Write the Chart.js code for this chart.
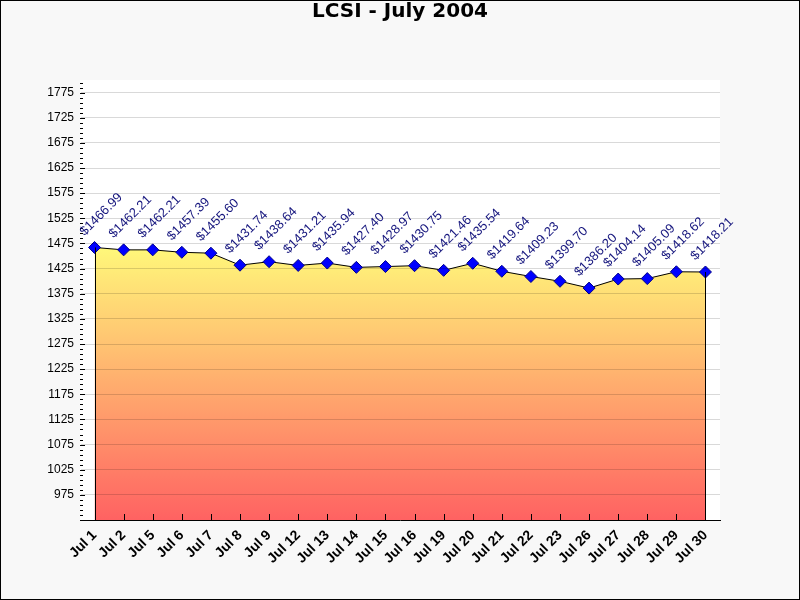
<!DOCTYPE html>
<html>
<head>
<meta charset="utf-8">
<title>LCSI - July 2004</title>
<script src="https://cdn.jsdelivr.net/npm/chart.js@4.4.1/dist/chart.umd.min.js"></script>
<style>
  html, body { margin: 0; padding: 0; background: #f8f8f8; }
  #wrap { width: 800px; height: 600px; }
</style>
</head>
<body>
<div id="wrap"><canvas id="lcsiChart" width="800" height="600"></canvas></div>
<script>
// trading days and closing values, July 2004
const days = ['Jul 1', 'Jul 2', 'Jul 5', 'Jul 6', 'Jul 7', 'Jul 8', 'Jul 9', 'Jul 12', 'Jul 13', 'Jul 14', 'Jul 15',
    'Jul 16', 'Jul 19', 'Jul 20', 'Jul 21', 'Jul 22', 'Jul 23', 'Jul 26', 'Jul 27', 'Jul 28', 'Jul 29', 'Jul 30'];
const closes = [1466.99, 1462.21, 1462.21, 1457.39, 1455.60, 1431.74, 1438.64, 1431.21, 1435.94, 1427.40, 1428.97,
    1430.75, 1421.46, 1435.54, 1419.64, 1409.23, 1399.70, 1386.20, 1404.14, 1405.09, 1418.62, 1418.21];
const yTicks = [975, 1025, 1075, 1125, 1175, 1225, 1275, 1325, 1375, 1425, 1475, 1525, 1575, 1625, 1675, 1725, 1775];
const yMin = 925;
const yMax = 1800;

// grey page, black frame, white plot area
const backdrop = {
    id: 'backdrop',
    beforeDraw(chart) {
        const ctx = chart.ctx;
        const area = chart.chartArea;
        ctx.save();
        ctx.fillStyle = '#f8f8f8';
        ctx.fillRect(0, 0, chart.width, chart.height);
        ctx.strokeStyle = '#000';
        ctx.lineWidth = 1;
        ctx.strokeRect(0.5, 0.5, chart.width - 1, chart.height - 1);
        ctx.fillStyle = '#fff';
        ctx.fillRect(area.left, area.top, area.right - area.left, area.bottom - area.top);
        ctx.restore();
    }
};

// inward tick marks, fill edges and value labels
const extras = {
    id: 'extras',
    afterDraw(chart) {
        const ctx = chart.ctx;
        const area = chart.chartArea;
        const x = chart.scales.x;
        const y = chart.scales.y;
        const pts = chart.getDatasetMeta(0).data;
        ctx.save();
        ctx.strokeStyle = '#000';
        ctx.lineWidth = 1;

        // edges of the filled area
        ctx.beginPath();
        const first = pts[0], last = pts[pts.length - 1];
        ctx.moveTo(Math.round(first.x) + 0.5, first.y);
        ctx.lineTo(Math.round(first.x) + 0.5, area.bottom);
        ctx.moveTo(Math.round(last.x) + 0.5, last.y);
        ctx.lineTo(Math.round(last.x) + 0.5, area.bottom);
        ctx.stroke();

        // y ticks: major at labels, minor every 10
        ctx.beginPath();
        for (let v = yMin; v <= yMax; v += 10) {
            const py = Math.round(y.getPixelForValue(v)) + 0.5;
            const len = yTicks.includes(v) ? 5 : 3;
            ctx.moveTo(area.left, py);
            ctx.lineTo(area.left + len, py);
        }
        // x ticks at each day
        days.forEach((d, i) => {
            const px = Math.round(x.getPixelForValue(i)) + 0.5;
            ctx.moveTo(px, area.bottom);
            ctx.lineTo(px, area.bottom - 6);
        });
        ctx.stroke();

        // value labels
        ctx.fillStyle = '#16167e';
        ctx.font = '13px "Liberation Sans", Arial, sans-serif';
        ctx.textAlign = 'left';
        ctx.textBaseline = 'alphabetic';
        pts.forEach((p, i) => {
            ctx.save();
            ctx.translate(p.x, p.y);
            ctx.rotate(-Math.PI / 4);
            ctx.fillText('$' + closes[i].toFixed(2), 1, -15);
            ctx.restore();
        });
        ctx.restore();
    }
};

const ctx = document.getElementById('lcsiChart').getContext('2d');

new Chart(ctx, {
    type: 'line',
    data: {
        labels: days,
        datasets: [{
            label: 'LCSI',
            data: closes,
            borderColor: '#000',
            borderWidth: 1,
            tension: 0,
            fill: 'start',
            backgroundColor: function(c) {
                const chart = c.chart;
                const area = chart.chartArea;
                if (!area) return '#ffb060';
                const top = chart.scales.y.getPixelForValue(Math.max(...closes));
                const g = chart.ctx.createLinearGradient(0, top, 0, area.bottom);
                g.addColorStop(0, '#fff87a');
                g.addColorStop(1, '#ff6262');
                return g;
            },
            pointStyle: 'rectRot',
            pointRadius: 6,
            pointBackgroundColor: '#0000ff',
            pointBorderColor: '#00008b',
            pointBorderWidth: 1
        }]
    },
    options: {
        responsive: false,
        animation: false,
        layout: {
            padding: 0
        },
        plugins: {
            legend: { display: false },
            tooltip: { enabled: false },
            title: {
                display: true,
                text: 'LCSI - July 2004',
                color: '#000',
                font: { family: '"DejaVu Sans", Verdana, sans-serif', size: 20, weight: 'bold', lineHeight: 1.2 },
                padding: { top: 0, bottom: 56 }
            }
        },
        scales: {
            x: {
                offset: true,
                grid: { display: false, drawTicks: false },
                border: { display: true, color: '#000', width: 1 },
                ticks: {
                    autoSkip: false,
                    maxRotation: 45,
                    minRotation: 45,
                    padding: 7,
                    color: '#000',
                    font: { family: '"Liberation Sans", Arial, sans-serif', size: 14, weight: 'bold' }
                },
                afterFit: function(scale) { scale.height = 80; }
            },
            y: {
                min: yMin,
                max: yMax,
                afterBuildTicks: function(scale) {
                    scale.ticks = yTicks.map(v => ({ value: v }));
                },
                grid: { color: 'rgba(0, 0, 0, 0.15)', drawTicks: false, z: 1 },
                border: { display: true, color: '#000', width: 1 },
                ticks: {
                    padding: 6,
                    color: '#000',
                    font: { family: '"Liberation Sans", Arial, sans-serif', size: 12 },
                    callback: function(v) { return String(v); }
                },
                afterFit: function(scale) { scale.width = 80; }
            },
            // empty right-hand margin so the title stays centred on the page
            margin: {
                position: 'right',
                grid: { display: false, drawTicks: false },
                border: { display: false },
                ticks: { display: false },
                afterFit: function(scale) { scale.width = 80; }
            }
        }
    },
    plugins: [backdrop, extras]
});
</script>
</body>
</html>
